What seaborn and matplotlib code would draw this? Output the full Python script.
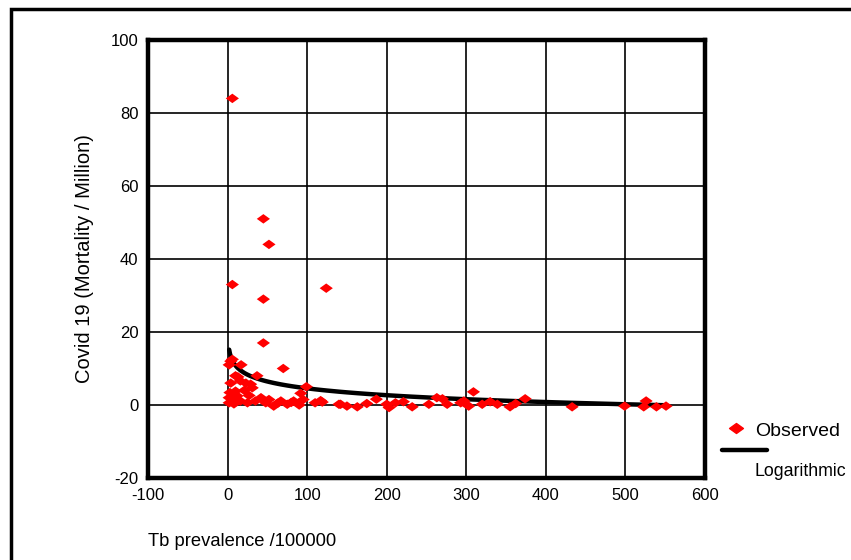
import numpy as np
import pandas as pd
import matplotlib
matplotlib.use('Agg')
import matplotlib.pyplot as plt
import seaborn as sns
from matplotlib.path import Path
from matplotlib.lines import Line2D
from matplotlib.patches import Rectangle

# Data
tb_prevalence = [6, 45, 52, 6, 45, 124, 45,
                 2, 6, 4, 17, 70, 10, 13, 37, 99, 4, 16, 23, 29, 10, 21, 31, 92,
                 3, 2, 2, 6, 16, 25, 35, 42, 48, 58, 67, 75, 83, 90, 8, 12, 27,
                 52, 63, 80, 95, 110, 117, 119, 140, 142, 150, 163, 175, 187,
                 200, 203, 211, 221, 232, 253, 263, 270, 276, 293, 297, 303,
                 309, 320, 330, 339, 355, 362, 374, 433, 499, 523, 526, 539, 551]
covid_mortality = [84, 51, 44, 33, 29, 32, 17,
                   11, 12.5, 12, 11, 10, 8, 7.7, 8, 5, 6, 6.6, 6, 5.7, 3.8, 4, 4.7, 3.2,
                   3.4, 2, 0.6, 1.6, 1.1, 0.6, 1.1, 2, 0.6, -0.3, 1.1, 0.2, 1.1, 0, 0.3, 2.5, 2.6,
                   1.5, 0.5, 0.7, 1.5, 0.6, 1.2, 0.8, 0.2, 0.2, -0.3, -0.5, 0.4, 1.6,
                   0.2, -0.7, 0.6, 0.9, -0.5, 0.2, 2, 1.7, 0.2, 0.6, 1.1, -0.3,
                   3.6, 0.2, 0.9, 0.2, -0.5, 0.4, 1.7, -0.5, -0.3, -0.5, 1.1, -0.5, -0.3]

x_ticks = [-100, 0, 100, 200, 300, 400, 500, 600]
y_ticks = [-20, 0, 20, 40, 60, 80, 100]

df = pd.DataFrame({'tb': tb_prevalence, 'covid': covid_mortality})

# logarithmic trendline (least squares on ln x, like the spreadsheet)
b, a = np.polyfit(np.log(df['tb']), df['covid'], 1)
fit = df.sort_values('tb').copy()
fit['trend'] = a + b * np.log(fit['tb'])

sns.set_style('white')
plt.rcParams['font.family'] = ['Liberation Sans', 'DejaVu Sans']
plt.rcParams.update({
    'axes.unicode_minus': False,
    'text.color': 'black',
    'axes.labelcolor': 'black',
    'xtick.color': 'black',
    'ytick.color': 'black',
})

fig = plt.figure(figsize=(8.51, 5.60), dpi=100)
ax = fig.add_axes([148 / 851, 1 - 478 / 560, (705 - 148) / 851, (478 - 40) / 560])

# flat diamond marker
diamond = Path([(-1, 0), (0, 0.72), (1, 0), (0, -0.72), (-1, 0)],
               [Path.MOVETO, Path.LINETO, Path.LINETO, Path.LINETO, Path.CLOSEPOLY])

ax.plot(fit['tb'], fit['trend'], color='black', lw=3.2, zorder=3)
sns.scatterplot(data=df, x='tb', y='covid', ax=ax, marker=diamond, s=90,
                color='#ff0000', edgecolor='none', zorder=4, clip_on=False)

ax.set_xlim(-100, 600)
ax.set_ylim(-20, 100)
ax.set_xticks(x_ticks)
ax.set_yticks(y_ticks)
ax.grid(True, color='black', lw=1.2)
ax.set_axisbelow(True)
for sp in ax.spines.values():
    sp.set_color('black')
    sp.set_linewidth(3.2)
ax.tick_params(axis='both', direction='out', length=4, width=3, color='black',
               labelsize=12, pad=3)
ax.set_xlabel('')
ax.set_ylabel('Covid 19 (Mortality / Million)', fontsize=14.5, labelpad=12)

fig.text(148 / 851, 1 - 541 / 560, 'Tb prevalence /100000', fontsize=13.2,
         ha='left', va='center')

# legend drawn outside the plot like the original
fig.add_artist(Line2D([736 / 851], [1 - 428 / 560], marker=diamond, markersize=10,
                      color='#ff0000', lw=0, transform=fig.transFigure))
fig.text(755 / 851, 1 - 431 / 560, 'Observed', fontsize=14, ha='left', va='center')
fig.add_artist(Line2D([722 / 851, 767 / 851], [1 - 450 / 560, 1 - 450 / 560],
                      color='black', lw=3.2, transform=fig.transFigure))
fig.text(755 / 851, 1 - 471 / 560, 'Logarithmic', fontsize=12.8, ha='left', va='center')

# outer frame, running off the canvas
fig.add_artist(Rectangle((11 / 851, -0.1), 1.2, 1 - 9 / 560 + 0.1, fill=False,
                         edgecolor='black', lw=2.5, transform=fig.transFigure))

fig.savefig('out.png', dpi=100)
